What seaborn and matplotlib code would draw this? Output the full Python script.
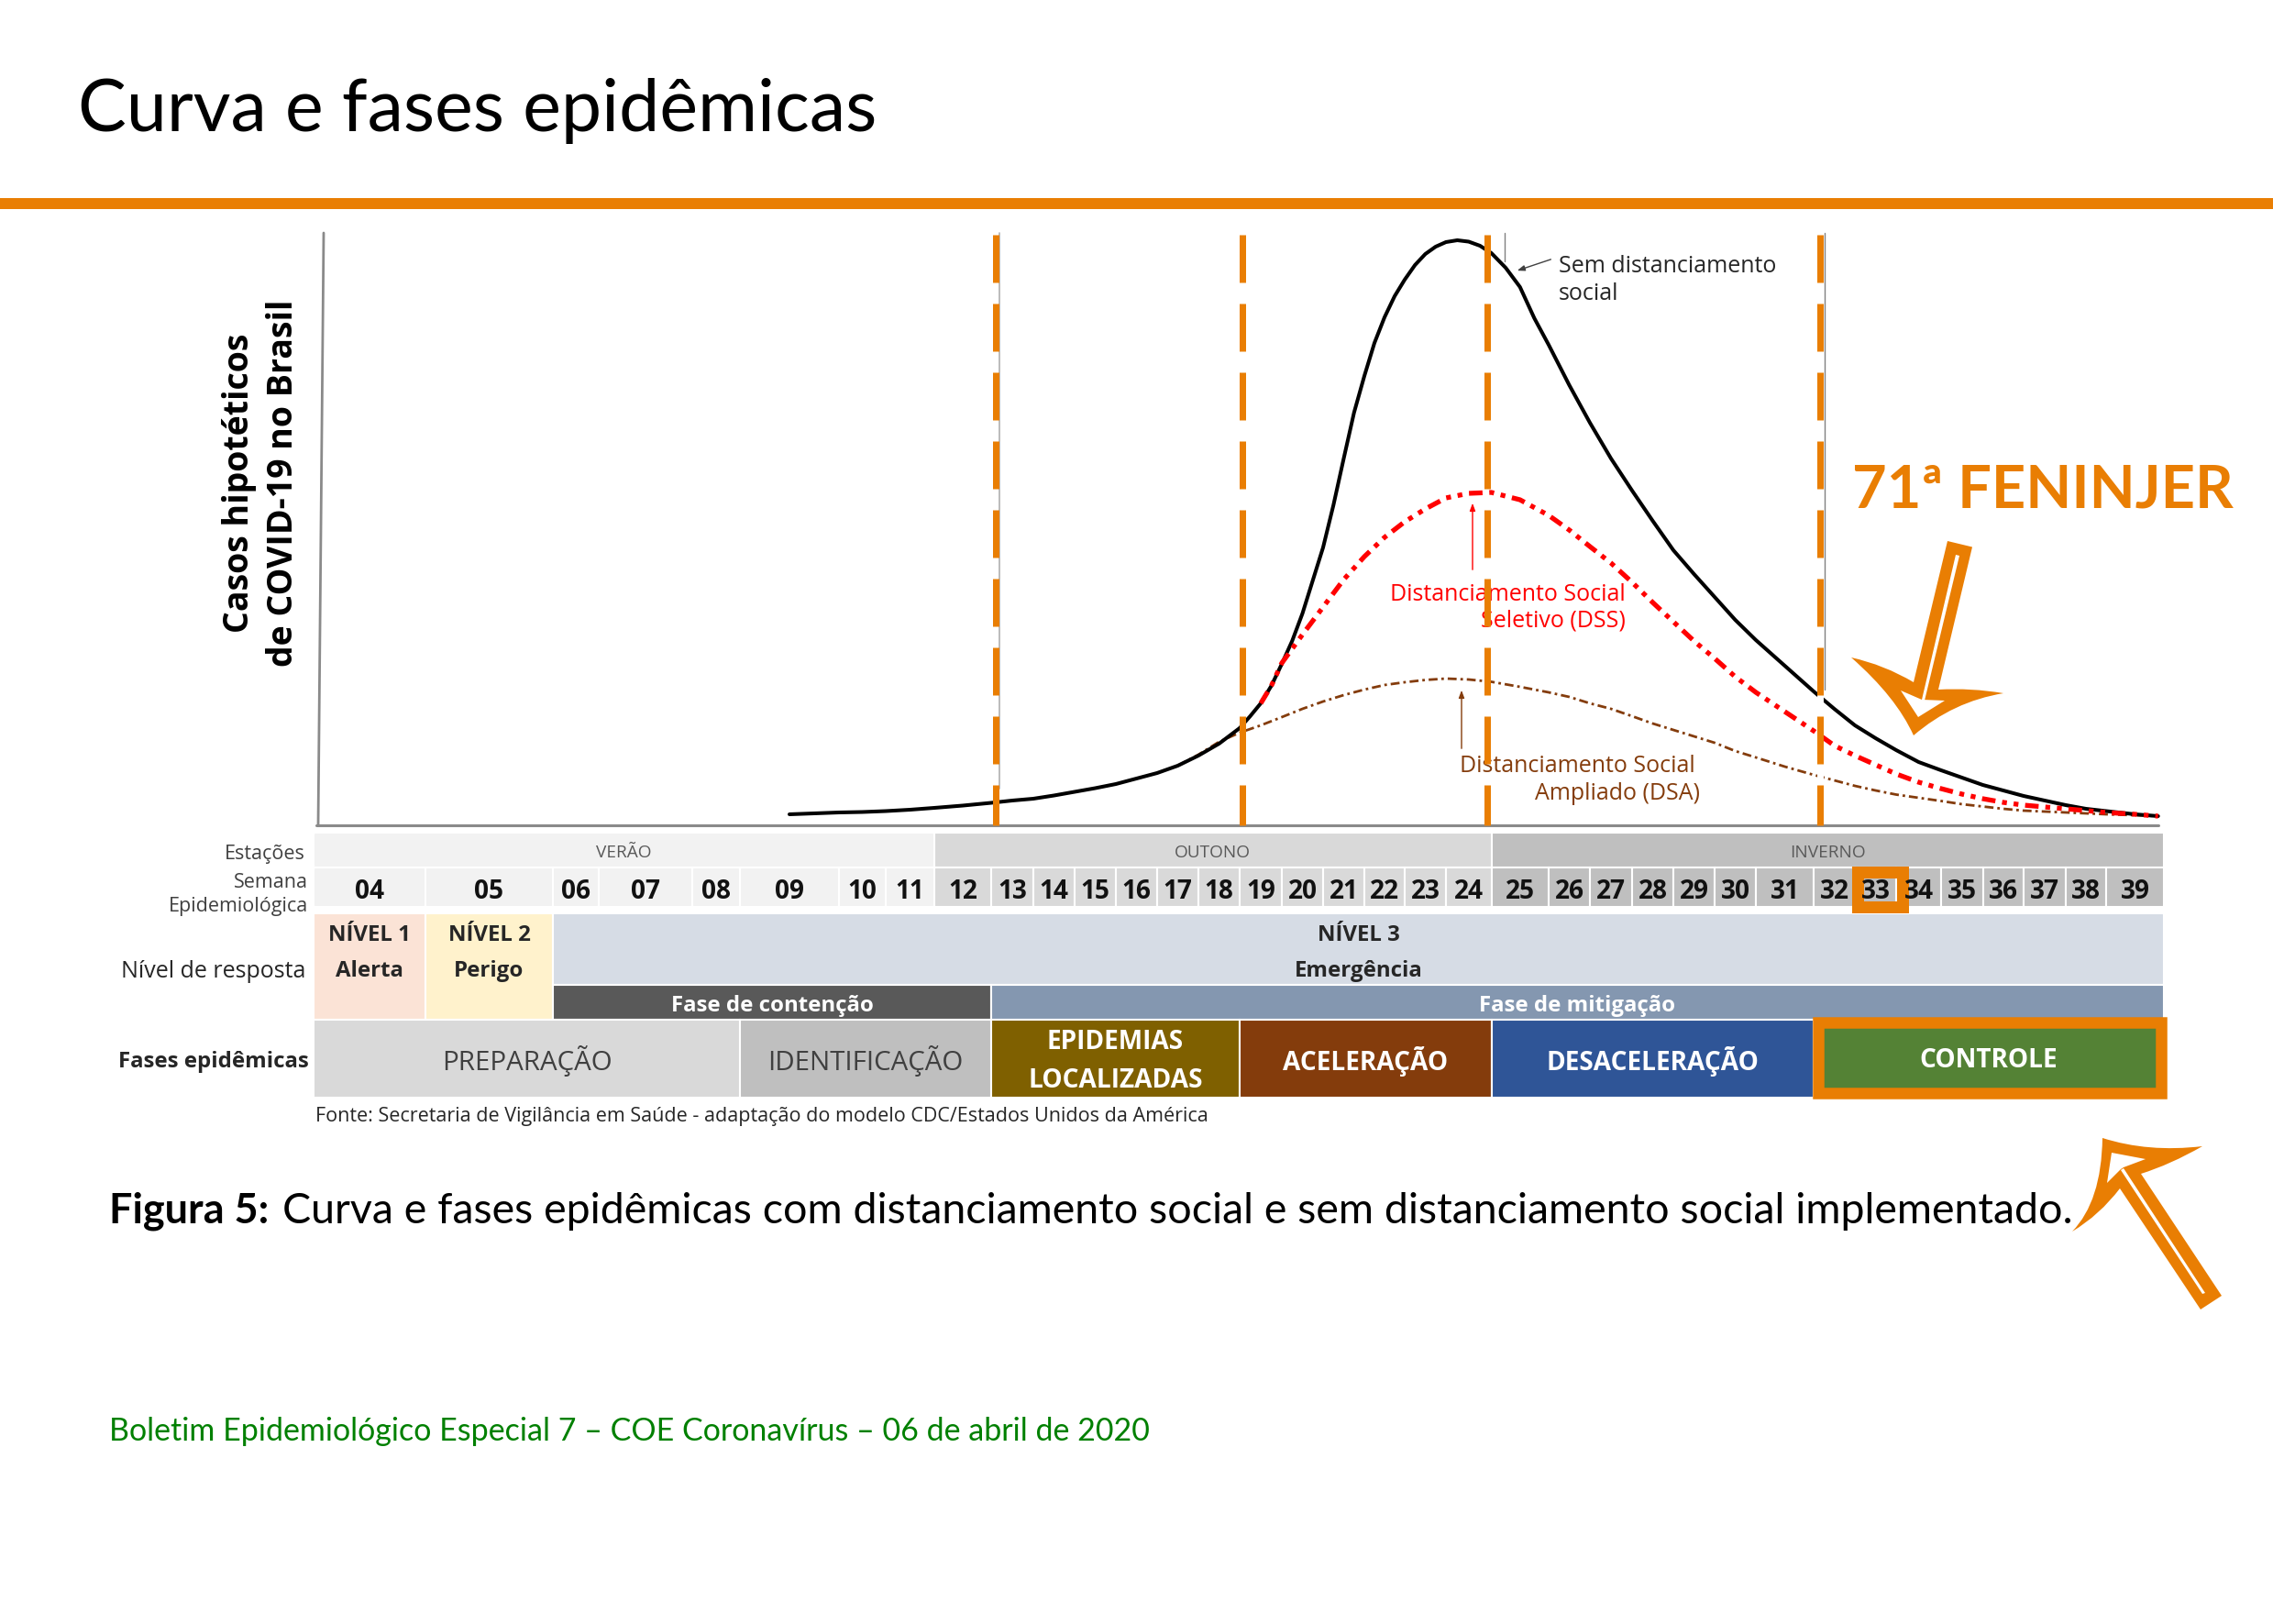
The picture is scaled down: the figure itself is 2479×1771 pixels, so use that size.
import numpy as np
import pandas as pd
import seaborn as sns
import matplotlib.pyplot as plt
from matplotlib.patches import PathPatch, Polygon, Rectangle
from matplotlib.path import Path

# --- data ---
weeks = list(range(4, 40))
week_labels = [f"{w:02d}" for w in weeks]

# curves: epidemiological week vs hypothetical cases (arbitrary units)
black_weeks = [9, 9.5, 10, 10.5, 11, 11.5, 12, 12.5, 13, 13.5, 14, 14.5, 15, 15.5, 16, 16.5, 17, 17.5, 18, 18.5, 18.75,
               19, 19.25, 19.5, 19.75, 20, 20.25, 20.5, 20.75, 21, 21.25, 21.5, 21.75, 22, 22.25, 22.5, 22.75,
               23, 23.25, 23.5, 23.75, 24, 24.25, 24.5, 24.75, 25, 25.25, 25.5, 26, 26.5, 27, 27.5, 28, 28.5,
               29, 29.5, 30, 30.5, 31, 31.5, 32, 32.5, 33, 33.5, 34, 34.5, 35, 35.5, 36, 36.5, 37, 37.5, 38, 38.5,
               39, 39.4]
black_cases = [12, 14, 14.5, 15.5, 17, 19, 21.5, 24.5, 27, 29, 32.5, 36.5, 40.5, 45, 51, 57, 65, 76, 89, 106, 119,
               133, 152, 176, 201, 231, 267, 303, 349, 400, 450, 490, 526, 554, 577, 595, 611,
               623, 631, 636, 638, 636.5, 632, 624, 608, 587, 553, 524, 480, 439, 400, 365, 332, 300,
               274, 249, 224, 202, 174, 146, 127, 109, 95, 82, 69, 60, 52, 44, 38, 32, 27, 22, 18, 15.5,
               12, 10]
red_weeks = [19, 19.25, 19.5, 20, 20.5, 21, 21.5, 22, 22.5, 23, 23.5, 24, 24.5, 25, 25.5, 26, 26.5, 27, 27.5, 28, 28.5,
             29, 29.5, 30, 30.5, 31, 31.5, 32, 32.5, 33, 33.5, 34, 34.5, 35, 35.5, 36, 36.5, 37, 37.5, 38, 38.5,
             39, 39.4]
red_cases = [133, 152, 177, 208, 238, 268, 293, 314, 331, 345, 357, 362, 363, 355, 338, 322, 304, 286, 265, 243, 222,
             201, 182, 162, 145, 124, 103, 87, 76, 66, 56, 47, 40, 34, 29, 25, 22, 20, 18, 16, 14,
             12, 10]
brown_weeks = [17, 17.5, 18, 18.5, 19, 19.5, 20, 20.5, 21, 21.5, 22, 22.5, 23, 23.5, 24, 24.5, 25, 25.5, 26, 26.5,
               27, 27.5, 28, 28.5, 29, 29.5, 30, 30.5, 31, 31.5, 32, 32.5, 33, 33.5, 34, 34.5, 35, 35.5, 36, 36.5,
               37, 37.5, 38, 38.5, 39, 39.4]
brown_cases = [65, 77, 91, 101, 109, 118, 127, 135, 142, 148, 153, 156, 158.5, 160, 159, 156.5, 151, 145, 140, 133,
               127, 119, 111, 104, 97, 90, 81, 74, 64, 55, 49, 43, 38, 33.5, 30, 26.5, 23, 20.5, 18, 16,
               15, 14, 13, 12, 11, 10]
phase_break_weeks = [12.61, 18.57, 24.41, 31.66]

# table rows: (label, first week, last week)
seasons = [("VERÃO", 4, 11), ("OUTONO", 12, 24), ("INVERNO", 25, 39)]
levels = [("NÍVEL 1", "Alerta", 4, 4), ("NÍVEL 2", "Perigo", 5, 5), ("NÍVEL 3", "Emergência", 6, 39)]
stages = [("Fase de contenção", 6, 12), ("Fase de mitigação", 13, 39)]
phases = [("PREPARAÇÃO", 4, 8), ("IDENTIFICAÇÃO", 9, 12), ("EPIDEMIAS\nLOCALIZADAS", 13, 18),
          ("ACELERAÇÃO", 19, 24), ("DESACELERAÇÃO", 25, 31), ("CONTROLE", 32, 39)]

# --- layout ---
W, H = 2479, 1771
ORANGE = "#E97E03"
week_edge_px = [342, 464, 603, 653, 755, 807, 915, 966, 1019, 1081, 1127, 1172, 1217, 1262, 1307, 1352, 1398, 1443,
                1488, 1532, 1577, 1626.5, 1689, 1734, 1780, 1825, 1870, 1915, 1978, 2023, 2068, 2117, 2162.5, 2207,
                2253, 2297, 2360]
week_edges = np.arange(3.5, 40)
season_colors = ["#F2F2F2", "#D9D9D9", "#BFBFBF"]
level_colors = ["#FBE3D6", "#FFF2CC", "#D6DCE5"]
stage_colors = ["#595959", "#8497B0"]
phase_colors = ["#D9D9D9", "#BFBFBF", "#7F6000", "#843C0C", "#2F5597", "#548235"]


def week_to_px(w):
    return np.interp(w, week_edges, week_edge_px)


def px_to_week(p):
    return np.interp(p, week_edge_px, week_edges)


def box(x0, y0, x1, y1):
    return [x0 / W, 1 - y1 / H, (x1 - x0) / W, (y1 - y0) / H]


sns.set_theme(style="white")
plt.rcParams["font.family"] = ["Open Sans", "DejaVu Sans"]

fig = plt.figure(figsize=(W / 100, H / 100), dpi=100, facecolor="white")

# table bars, under everything
ax_tab = fig.add_axes(box(342, 900, 2360, 1200), zorder=0)
ax_tab.set_xscale("function", functions=(week_to_px, px_to_week))
ax_tab.set_xlim(3.5, 39.5)
ax_tab.set_ylim(1200, 900)
ax_tab.axis("off")


def row(first, last, top, bottom, color):
    ax_tab.barh((top + bottom) / 2, last - first + 1, left=first - 0.5, height=bottom - top,
                color=color, edgecolor="white", linewidth=1.5)


for (name, a, b), c in zip(seasons, season_colors):
    row(a, b, 908, 946, c)
    for w in range(a, b + 1):
        row(w, w, 946, 989, c)
for i, (top, low, a, b) in enumerate(levels):
    row(a, b, 996, 1074 if i == 2 else 1112, level_colors[i])
for (name, a, b), c in zip(stages, stage_colors):
    row(a, b, 1074, 1112, c)
for (name, a, b), c in zip(phases, phase_colors):
    row(a, b, 1112, 1197, c)

# page layer for the text and the drawn shapes, in pixels
page = fig.add_axes([0, 0, 1, 1], zorder=1)
page.set_xlim(0, W)
page.set_ylim(H, 0)
page.axis("off")
page.patch.set_alpha(0)


def put(x, y, s, px, ha="center", color="black", weight="normal", **kw):
    return page.text(x, y, s, fontsize=px * 0.72, ha=ha, va="center", color=color, weight=weight,
                     zorder=5, **kw)


def mid(a, b):
    return (week_to_px(a - 0.5) + week_to_px(b + 0.5)) / 2


page.text(85, 143, "Curva e fases epidêmicas", fontsize=79 * 0.72, family="Lato", color="black", va="baseline")
page.add_patch(Rectangle((0, 216), W, 12, color=ORANGE, lw=0))

# axes lines of the chart
page.plot([353, 347], [254, 900], color="#8A8A8A", lw=2)
page.plot([345, 2354], [900, 900], color="#8A8A8A", lw=2.2)
page.plot([1090, 1090], [254, 860], color="#B0B0B0", lw=1.2)
page.plot([1990, 1990], [254, 752], color="#808080", lw=1)
page.plot([1641, 1641], [254, 285], color="#808080", lw=1)

put(261, 527, "Casos hipotéticos", 37.5, weight="bold", rotation=90)
put(309, 527, "de COVID-19 no Brasil", 37.5, weight="bold", rotation=90)

# curve labels
put(1700, 290.5, "Sem distanciamento", 25, ha="left", color="#262626")
put(1700, 320.5, "social", 25, ha="left", color="#262626")
put(1773, 648.5, "Distanciamento Social", 25, ha="right", color="#FF0000")
put(1773, 677.5, "Seletivo (DSS)", 25, ha="right", color="#FF0000")
put(1592, 835.5, "Distanciamento Social", 25, ha="left", color="#843C0C")
put(1854, 865.5, "Ampliado (DSA)", 25, ha="right", color="#843C0C")
page.annotate("", xy=(1652, 296), xytext=(1694, 282),
              arrowprops=dict(arrowstyle="-|>,head_length=0.4,head_width=0.15", color="#404040", lw=1))
page.annotate("", xy=(1606, 546), xytext=(1606, 624),
              arrowprops=dict(arrowstyle="-|>,head_length=0.4,head_width=0.15", color="#FF0000", lw=1))
page.annotate("", xy=(1594, 750), xytext=(1594, 819),
              arrowprops=dict(arrowstyle="-|>,head_length=0.4,head_width=0.15", color="#843C0C", lw=1))

# left labels of the table
put(333, 931, "Estações", 21.5, ha="right", color="#404040")
put(336, 962, "Semana", 21.5, ha="right", color="#404040")
put(336, 988, "Epidemiológica", 21.5, ha="right", color="#404040")
put(333, 1060, "Nível de resposta", 25, ha="right", color="#262626")
put(337, 1158, "Fases epidêmicas", 24, ha="right", color="#262626", weight="bold")

for name, a, b in seasons:
    put(mid(a, b), 930, name, 19, color="#595959")
for w, lab in zip(weeks, week_labels):
    put(mid(w, w), 972, lab, 28, weight="bold", color="#111111")
for top, low, a, b in levels:
    put(mid(a, b), 1020, top, 24, weight="bold", color="#262626")
    put(mid(a, b), 1059, low, 24, weight="bold", color="#262626")
for name, a, b in stages:
    put(mid(a, b), 1097, name, 24, weight="bold", color="white")
for i, (name, a, b) in enumerate(phases):
    col = "#404040" if i < 2 else "white"
    wt = "normal" if i < 2 else "bold"
    size = 29.5 if i < 2 else 28
    if "\n" in name:
        first, second = name.split("\n")
        put(mid(a, b), 1137, first, size, color=col, weight=wt)
        put(mid(a, b), 1179, second, size, color=col, weight=wt)
    else:
        put(mid(a, b), 1157, name, size, color=col, weight=wt)

put(344, 1217, "Fonte: Secretaria de Vigilância em Saúde - adaptação do modelo CDC/Estados Unidos da América",
    21.55, ha="left", color="#262626")

# orange highlights
page.add_patch(Rectangle((2026, 950.5), 48.5, 38.5, fill=False, edgecolor=ORANGE, lw=13 * 0.72, zorder=3))
page.add_patch(Rectangle((1983, 1114.5), 373.5, 77.5, fill=False, edgecolor=ORANGE, lw=12.5 * 0.72, zorder=3))

page.text(2020, 553, "71ª FENINJER", fontsize=65 * 0.72, family="Lato", weight="bold",
          color=ORANGE, va="baseline", ha="left")

# hollow arrow, pointing down
M, L, Q = Path.MOVETO, Path.LINETO, Path.CURVE3
down = Path([(2124, 590), (2087, 744), (2055, 725), (2019, 717), (2068, 760), (2087, 802),
             (2130, 765), (2185, 756), (2150, 750), (2114, 752), (2151, 596.5), (2124, 590)],
            [M, L, Q, Q, Q, Q, Q, Q, Q, Q, L, L])
page.add_patch(PathPatch(down, fc=ORANGE, lw=0))
page.add_patch(Polygon([(2073, 753), (2096, 763), (2121, 764), (2092, 782)], fc="white", lw=0))
page.add_patch(Polygon([(2133, 605), (2137, 606), (2099, 764), (2096, 763)], fc="white", lw=0))

# hollow arrow, pointing up
up = Path([(2400, 1428), (2423, 1413), (2335, 1280), (2367, 1270), (2402, 1250), (2343, 1257), (2293, 1241),
           (2292, 1310), (2260, 1343), (2290, 1325), (2312, 1296), (2400, 1428)],
          [M, L, L, Q, Q, Q, Q, Q, Q, Q, Q, L])
page.add_patch(PathPatch(up, fc=ORANGE, lw=0))
page.add_patch(Polygon([(2303, 1257), (2340, 1264), (2316, 1273), (2313, 1275), (2298, 1290)], fc="white", lw=0))
page.add_patch(Polygon([(2316, 1274), (2405, 1410), (2402, 1411), (2313, 1276)], fc="white", lw=0))

# caption and footer
page.text(119, 1334, "Figura 5:", fontsize=45 * 0.72, family="Lato", weight="bold", color="black", va="baseline")
page.text(308, 1334, "Curva e fases epidêmicas com distanciamento social e sem distanciamento social implementado.",
          fontsize=46.5 * 0.72, family="Lato", color="black", va="baseline")
page.text(119, 1571, "Boletim Epidemiológico Especial 7 – COE Coronavírus – 06 de abril de 2020",
          fontsize=34 * 0.72, family="Lato", color="#008000", va="baseline")

# curves on top, with the dashed phase lines over them
ax = fig.add_axes(box(342, 253, 2360, 900), zorder=2)
ax.set_xscale("function", functions=(week_to_px, px_to_week))
ax.patch.set_alpha(0)

curves = pd.DataFrame({"week": black_weeks, "cases": black_cases})
dss = pd.DataFrame({"week": red_weeks, "cases": red_cases})
dsa = pd.DataFrame({"week": brown_weeks, "cases": brown_cases})
sns.lineplot(data=dsa, x="week", y="cases", ax=ax, color="#843C0C", linewidth=2.0, linestyle=(0, (3.5, 1.5, 1, 1.5)),
             errorbar=None, legend=False)
sns.lineplot(data=curves, x="week", y="cases", ax=ax, color="black", linewidth=2.9, errorbar=None, legend=False)
sns.lineplot(data=dss, x="week", y="cases", ax=ax, color="#FF0000", linewidth=3.8,
             linestyle=(0, (2.8, 1.4, 1, 1.4, 1, 1.4)), errorbar=None, legend=False)

ax.set_xlim(3.5, 39.5)
ax.set_ylim(0, 647)
ax.axis("off")

ax.plot([phase_break_weeks[3]] * 2, [644, 0], color="white", lw=5, zorder=4)
for wk in phase_break_weeks:
    ax.plot([wk, wk], [644, 0], color=ORANGE, lw=7 * 0.72, linestyle=(0, (52 / 7, 23 / 7)),
            dash_capstyle="butt", zorder=5, clip_on=False)

fig.savefig("out.png", dpi=100, facecolor="white")
